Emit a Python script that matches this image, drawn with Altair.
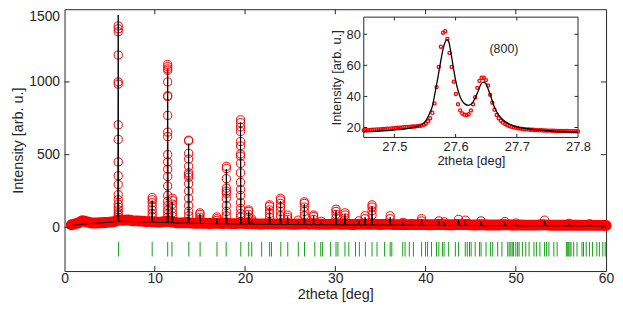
import altair as alt
import pandas as pd

FONT = "Liberation Sans"
INK = "#262626"
RED = "#ff0000"
GREEN = "#14a014"

# ---------------- main pattern: background (observed / calculated) ----------------
bg_x = [0.75,
        1.0, 1.5, 2.0, 2.5, 3.0, 3.5, 4.0, 4.5, 5.0, 5.5,
        6.0, 6.5, 7.0, 7.5, 8.0, 8.5, 9.0, 9.5, 10.0, 10.5,
        11.0, 11.5, 12.0, 12.5, 13.0, 13.5, 14.0, 14.5, 15.0, 15.5,
        16.0, 16.5, 17.0, 17.5, 18.0, 18.5, 19.0, 19.5, 20.0, 20.5,
        21.0, 21.5, 22.0, 22.5, 23.0, 23.5, 24.0, 24.5, 25.0, 25.5,
        26.0, 26.5, 27.0, 27.5, 28.0, 28.5, 29.0, 29.5, 30.0, 30.5,
        31.0, 31.5, 32.0, 32.5, 33.0, 33.5, 34.0, 34.5, 35.0, 35.5,
        36.0, 36.5, 37.0, 37.5, 38.0, 38.5, 39.0, 39.5, 40.0, 40.5,
        41.0, 41.5, 42.0, 42.5, 43.0, 43.5, 44.0, 44.5, 45.0, 45.5,
        46.0, 46.5, 47.0, 47.5, 48.0, 48.5, 49.0, 49.5, 50.0, 50.5,
        51.0, 51.5, 52.0, 52.5, 53.0, 53.5, 54.0, 54.5, 55.0, 55.5,
        56.0, 56.5, 57.0, 57.5, 58.0, 58.5, 59.0, 59.5, 60.0]
bg_obs = [18,
          22, 30, 46, 38, 30, 30, 32, 34, 36, 40,
          52, 48, 52, 46, 45, 43, 41, 40, 38, 35,
          40, 42, 36, 32, 31, 34, 30, 28, 30, 28,
          27, 28, 28, 27, 30, 26, 26, 30, 27, 28,
          25, 24, 24, 26, 24, 23, 26, 24, 22, 22,
          23, 26, 22, 24, 22, 22, 21, 22, 24, 22,
          23, 21, 20, 21, 22, 21, 23, 21, 20, 21,
          22, 20, 19, 20, 19, 20, 19, 21, 19, 18,
          19, 20, 19, 18, 18, 20, 19, 20, 18, 17,
          19, 18, 17, 17, 17, 18, 18, 17, 16, 17,
          16, 16, 16, 17, 19, 16, 15, 16, 15, 15,
          16, 15, 15, 14, 15, 14, 14, 14, 13]
bg_calc = [12,
           14, 18, 22, 25, 27, 29, 31, 33, 35, 38,
           42, 42, 42, 41, 40, 39, 38, 37, 35, 34,
           34, 33, 32, 31, 30, 29, 29, 28, 27, 27,
           26, 26, 25, 25, 24, 24, 23, 23, 23, 22,
           22, 22, 21, 21, 21, 20, 20, 20, 20, 19,
           19, 19, 19, 18, 18, 18, 18, 18, 17, 17,
           17, 17, 17, 17, 16, 16, 16, 16, 16, 16,
           15, 15, 15, 15, 15, 15, 14, 14, 14, 14,
           14, 14, 13, 13, 13, 13, 13, 13, 13, 13,
           12, 12, 12, 12, 12, 12, 12, 12, 12, 11,
           11, 11, 11, 11, 11, 11, 11, 11, 11, 10,
           10, 10, 10, 10, 10, 10, 10, 10, 10]

# ---------------- main pattern: Bragg peaks ----------------
pk_pos = [5.95, 9.71, 11.43, 11.95, 13.75, 15.0, 16.87, 17.93, 19.5, 20.4,
          20.74, 22.72, 23.93, 24.72, 25.9, 26.57, 27.6, 28.45, 30.08, 31.07,
          32.6, 33.3, 34.07, 36.08, 37.5, 39.56, 41.47, 42.05, 43.66, 44.4,
          46.15, 48.8, 50.0, 53.19, 55.9, 58.2]
pk_calc_top = [1460, 185, 1090, 175, 575, 90, 60, 400, 720, 110,
               50, 140, 180, 75, 40, 160, 80, 40, 115, 90,
               45, 70, 145, 70, 35, 55, 40, 35, 50, 45,
               40, 35, 28, 45, 25, 22]
pk_calc_base = [42, 37, 33, 32, 29, 27, 25, 24, 23, 22,
                22, 21, 20, 20, 19, 19, 18, 18, 17, 17,
                17, 16, 16, 15, 15, 14, 14, 13, 13, 13,
                12, 12, 12, 11, 10, 10]
pk_obs = [
    [1385, 1365, 1345, 1185, 1000, 985, 705, 605, 450, 355, 295, 225, 190, 160, 140, 120, 100, 85, 70],
    [205, 190, 170, 145, 120, 95, 75],
    [1120, 1105, 1090, 1080, 1000, 905, 900, 770, 655, 625, 500, 450, 400, 350, 285, 220, 180, 150, 120, 95, 70],
    [200, 185, 160, 130, 100, 75],
    [600, 595, 510, 470, 420, 375, 360, 345, 300, 250, 200, 150, 110, 80],
    [100, 90, 70, 55],
    [72, 60, 48],
    [420, 405, 335, 270, 250, 235, 200, 150, 110, 80],
    [740, 720, 690, 660, 590, 560, 505, 490, 440, 375, 310, 260, 220, 170, 130, 95, 70],
    [120, 110, 90, 70],
    [58, 45],
    [155, 145, 120, 95, 70],
    [200, 188, 165, 140, 110, 80],
    [85, 70, 55],
    [50],
    [175, 165, 140, 110, 80],
    [85, 75, 55],
    [42],
    [125, 110, 90, 65],
    [100, 85, 65],
    [45],
    [80, 60],
    [155, 140, 115, 85],
    [80, 60],
    [35],
    [60, 45],
    [45],
    [38],
    [55],
    [50],
    [45],
    [40],
    [30],
    [50],
    [28],
    [25],
]

# ---------------- Bragg reflection markers ----------------
refl_pos = [5.97, 9.71, 11.43, 11.90, 13.77, 15.02, 16.89, 17.91, 19.53, 20.41,
            20.74, 21.84, 22.72, 22.93, 23.96, 24.73, 25.90, 26.59, 27.73, 28.39,
            28.57, 29.48, 30.08, 30.29, 31.07, 31.5, 32.24, 32.67, 33.33, 34.07,
            34.62, 35.46, 36.08, 36.26, 37.47, 37.73, 38.2, 38.65, 39.56, 40.0,
            40.22, 40.66, 41.21, 41.47, 41.87, 42.05, 42.56, 43.3, 43.66, 44.4,
            44.62, 44.87, 45.05, 45.5, 45.97, 46.15, 46.7, 47.18, 47.44, 47.99,
            48.46, 49.1, 49.27, 49.45, 49.6, 49.75, 50.0, 50.2, 50.36, 50.73,
            51.1, 51.47, 52.01, 52.28, 52.67, 53.19, 53.41, 53.66, 54.21, 54.58,
            55.6, 55.75, 55.86, 56.0, 56.12, 56.41, 56.78, 57.33, 57.5, 57.8,
            58.16, 58.49, 58.98, 59.26, 59.64, 59.9]

# ---------------- inset: (800) reflection ----------------
inset_x0 = 27.45
inset_step = 0.0035
inset_obs = [18.2, 18.3, 18.3, 18.4, 18.5, 18.6, 18.7, 18.8, 18.9, 19.0,
             19.1, 19.2, 19.3, 19.4, 19.5, 19.7, 19.8, 19.9, 20.0, 20.2,
             20.3, 20.4, 20.5, 20.6, 20.7, 20.9, 21.0, 21.3, 21.8, 22.6,
             24.0, 26.0, 29.5, 35.5, 46.0, 59.0, 72.0, 81.0, 82.0, 77.0,
             68.0, 59.0, 49.5, 41.5, 35.0, 31.0, 29.0, 28.2, 28.0, 28.5,
             31.0, 35.0, 39.5, 45.5, 50.0, 52.0, 52.0, 50.5, 47.0, 41.0,
             36.0, 31.5, 28.0, 26.0, 24.4, 23.2, 22.3, 21.6, 21.0, 20.5,
             20.1, 19.8, 19.5, 19.3, 19.1, 18.9, 18.8, 18.7, 18.6, 18.5,
             18.4, 18.3, 18.2, 18.2, 18.1, 18.1, 18.0, 18.0, 17.9, 17.9,
             17.8, 17.8, 17.8, 17.7, 17.7, 17.7, 17.6, 17.6, 17.6, 17.6, 17.5]
inset_calc_x = [27.45, 27.48, 27.51, 27.53, 27.54, 27.548, 27.553, 27.558, 27.562, 27.567,
                27.571, 27.575, 27.579, 27.583, 27.586, 27.589, 27.592, 27.596, 27.600, 27.605,
                27.610, 27.615, 27.621, 27.627, 27.632, 27.637, 27.641, 27.645, 27.649, 27.653,
                27.658, 27.663, 27.668, 27.675, 27.685, 27.695, 27.71, 27.73, 27.76, 27.8]
inset_calc_y = [17.2, 17.8, 18.8, 19.9, 21.0, 22.8, 25.5, 29.5, 33.5, 43.5,
                52.0, 61.0, 69.5, 75.0, 76.5, 75.0, 69.0, 59.5, 50.5, 42.5,
                37.5, 35.2, 34.3, 35.5, 39.0, 43.5, 47.5, 49.2, 48.5, 45.0,
                39.5, 33.5, 29.5, 25.8, 22.8, 21.0, 19.6, 18.6, 17.6, 16.9]
inset_label = "(800)"
inset_label_at = (27.679, 70.4)

main_xticks = [0, 10, 20, 30, 40, 50, 60]
main_yticks = [0, 500, 1000, 1500]
inset_xticks = [27.5, 27.6, 27.7, 27.8]
inset_yticks = [20, 40, 60, 80]

MAIN_XDOM = [0, 60]
MAIN_YDOM = [-300, 1500]
INSET_XDOM = [27.45, 27.8]
INSET_YDOM = [13.6, 91]
REFL_SPAN = (-100, -200)

# ---------------- layout ----------------
W, H = 546, 264
INSET_X_RANGE = [301.7, 517.7]
INSET_Y_RANGE = [129.3, 8.0]

# ---------------- tables ----------------
band_df = pd.DataFrame({"x": bg_x, "y": bg_obs})
obs_rows = [{"x": x, "y": y} for x, y in zip(bg_x, bg_obs)]
for p, ys in zip(pk_pos, pk_obs):
    obs_rows += [{"x": p, "y": y} for y in ys]
obs_df = pd.DataFrame(obs_rows)

calc_rows = [{"x": x, "y": y} for x, y in zip(bg_x, bg_calc)]
for p, top, base in zip(pk_pos, pk_calc_top, pk_calc_base):
    calc_rows += [{"x": p - 0.06, "y": base}, {"x": p, "y": top}, {"x": p + 0.06, "y": base}]
calc_df = pd.DataFrame(calc_rows).sort_values("x")

refl_df = pd.DataFrame({"x": refl_pos})

inset_obs_df = pd.DataFrame({"x": [inset_x0 + i * inset_step for i in range(len(inset_obs))],
                             "y": inset_obs})
inset_calc_df = pd.DataFrame({"x": inset_calc_x, "y": inset_calc_y})


# ---------------- scales / axes ----------------
def xs_m():
    return alt.Scale(domain=MAIN_XDOM, nice=False, zero=False)


def ys_m():
    return alt.Scale(domain=MAIN_YDOM, nice=False, zero=False)


def xs_i():
    return alt.Scale(domain=INSET_XDOM, range=INSET_X_RANGE, nice=False, zero=False)


def ys_i():
    return alt.Scale(domain=INSET_YDOM, range=INSET_Y_RANGE, nice=False, zero=False)


x_axis_m = alt.Axis(orient="bottom", values=main_xticks, title="2theta [deg]", grid=False, ticks=False,
                    domain=False, labelFlush=False, labelPadding=1, titlePadding=2,
                    labelFontSize=14, titleFontSize=14.5, format="d")
y_axis_m = alt.Axis(orient="left", values=main_yticks, title="Intensity [arb. u.]", grid=False, ticks=False,
                    domain=False, labelFlush=True, labelPadding=5, titlePadding=3,
                    labelFontSize=14, titleFontSize=14.5, format="d")
x_axis_i = alt.Axis(orient="bottom", offset=INSET_Y_RANGE[0] - H, values=inset_xticks,
                    title="2theta [deg]", grid=False, ticks=False, domain=False,
                    labelFlush=False, labelPadding=3, titlePadding=1,
                    labelFontSize=13, titleFontSize=13, format=".1f")
y_axis_i = alt.Axis(orient="left", offset=-INSET_X_RANGE[0], values=inset_yticks,
                    title="Intensity [arb. u.]", grid=False, ticks=False, domain=False,
                    labelFlush=False, labelPadding=3.5, titlePadding=2,
                    labelFontSize=13, titleFontSize=13, format="d")


def vticks(values, yval, off, xs, ys, size):
    return alt.Chart(pd.DataFrame({"v": values})).mark_tick(
        orient="vertical", size=size, thickness=1, color=INK, yOffset=off, opacity=1
    ).encode(x=alt.X("v:Q", scale=xs, axis=None),
             y=alt.YDatum(yval, scale=ys, axis=None, type="quantitative"))


def hticks(values, xval, off, xs, ys, size):
    return alt.Chart(pd.DataFrame({"v": values})).mark_tick(
        orient="horizontal", size=size, thickness=1, color=INK, xOffset=off, opacity=1
    ).encode(y=alt.Y("v:Q", scale=ys, axis=None),
             x=alt.XDatum(xval, scale=xs, axis=None, type="quantitative"))


# ---------------- main layers ----------------
band = alt.Chart(band_df).mark_line(color=RED, strokeWidth=11, strokeCap="round", strokeJoin="round").encode(
    x=alt.X("x:Q", scale=xs_m(), axis=x_axis_m), y=alt.Y("y:Q", scale=ys_m(), axis=y_axis_m))
obs = alt.Chart(obs_df).mark_point(shape="circle", filled=False, color=RED, size=68, strokeWidth=1,
                                   opacity=1).encode(
    x=alt.X("x:Q", scale=xs_m(), axis=None), y=alt.Y("y:Q", scale=ys_m(), axis=None))
calc = alt.Chart(calc_df).mark_line(color="black", strokeWidth=1).encode(
    x=alt.X("x:Q", scale=xs_m(), axis=None), y=alt.Y("y:Q", scale=ys_m(), axis=None))
refl = alt.Chart(refl_df).mark_rule(color=GREEN, strokeWidth=1).encode(
    x=alt.X("x:Q", scale=xs_m(), axis=None),
    y=alt.YDatum(REFL_SPAN[0], scale=ys_m(), axis=None, type="quantitative"),
    y2=alt.datum(REFL_SPAN[1]))

main_inner_x = [v for v in main_xticks if v not in MAIN_XDOM]
main_inner_y = [v for v in main_yticks if v not in MAIN_YDOM]

# ---------------- inset layers ----------------
frame = alt.Chart(pd.DataFrame({"a": [0]})).mark_rect(fill="white", stroke=INK, strokeWidth=1).encode(
    x=alt.XDatum(INSET_XDOM[0], scale=xs_i(), axis=None, type="quantitative"),
    x2=alt.datum(INSET_XDOM[1]),
    y=alt.YDatum(INSET_YDOM[0], scale=ys_i(), axis=None, type="quantitative"),
    y2=alt.datum(INSET_YDOM[1]))
i_obs = alt.Chart(inset_obs_df).mark_point(shape="circle", filled=False, color=RED, size=10,
                                           strokeWidth=1.3, opacity=1).encode(
    x=alt.X("x:Q", scale=xs_i(), axis=x_axis_i), y=alt.Y("y:Q", scale=ys_i(), axis=y_axis_i))
i_calc = alt.Chart(inset_calc_df).mark_line(color="black", strokeWidth=1.3, interpolate="monotone").encode(
    x=alt.X("x:Q", scale=xs_i(), axis=None), y=alt.Y("y:Q", scale=ys_i(), axis=None))
i_text = alt.Chart(pd.DataFrame({"a": [0]})).mark_text(
    text=inset_label, font=FONT, fontSize=12.5, color=INK).encode(
    x=alt.XDatum(inset_label_at[0], scale=xs_i(), axis=None, type="quantitative"),
    y=alt.YDatum(inset_label_at[1], scale=ys_i(), axis=None, type="quantitative"))

in_x = [v for v in inset_xticks if v not in INSET_XDOM]
in_y = [v for v in inset_yticks if v not in INSET_YDOM]

layers = [
    band, obs, calc, refl,
    vticks(main_inner_x, MAIN_YDOM[0], -2.5, xs_m(), ys_m(), 5),
    vticks(main_inner_x, MAIN_YDOM[1], 2.5, xs_m(), ys_m(), 5),
    hticks(main_inner_y, MAIN_XDOM[0], 2.5, xs_m(), ys_m(), 5),
    hticks(main_inner_y, MAIN_XDOM[1], -2.5, xs_m(), ys_m(), 5),
    frame, i_obs, i_calc, i_text,
    vticks(in_x, INSET_YDOM[0], -1.75, xs_i(), ys_i(), 3.5),
    vticks(in_x, INSET_YDOM[1], 1.75, xs_i(), ys_i(), 3.5),
    hticks(in_y, INSET_XDOM[0], 1.75, xs_i(), ys_i(), 3.5),
    hticks(in_y, INSET_XDOM[1], -1.75, xs_i(), ys_i(), 3.5),
]

chart = alt.layer(*layers).resolve_scale(x="independent", y="independent").properties(
    width=W, height=H,
    autosize=alt.AutoSizeParams(type="none"),
    padding={"left": 57, "top": 0, "right": 9, "bottom": 32},
).configure_axis(
    labelFont=FONT, titleFont=FONT, labelColor=INK, titleColor=INK, titleFontWeight="normal"
).configure_view(stroke=INK, strokeWidth=1)

chart.save("out.html", embed_options={"renderer": "svg", "actions": False})
